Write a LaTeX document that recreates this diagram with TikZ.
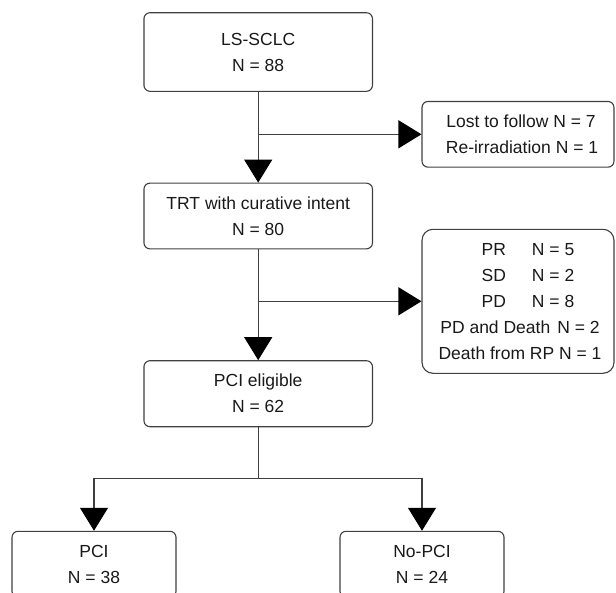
\documentclass[tikz,border=0pt]{standalone}
\usepackage{fontspec}
\setmainfont{Liberation Sans}
\usetikzlibrary{arrows.meta}
\begin{document}
\begin{tikzpicture}[x=1pt,y=-1pt,
  box/.style={draw=black!75, line width=1.1pt, rounded corners=6pt, align=center,
    font=\fontsize{17.5}{26}\selectfont, inner sep=0pt, text=black!90},
  link/.style={draw=black!75, line width=1.1pt},
  arr/.style={link, -{Triangle[length=23pt,width=28pt,color=black]}}]
\useasboundingbox (0,0) rectangle (616,592);
\clip (0,0) rectangle (616,592);
\node[box, minimum width=228.5pt, minimum height=78.6pt] (b1) at (258.2,52) {LS-SCLC\\N = 88};
\node[box, minimum width=228.5pt, minimum height=65.7pt] (b2) at (258.2,216) {TRT with curative intent\\N = 80};
\node[box, minimum width=228.5pt, minimum height=66pt] (b3) at (258.2,393.7) {PCI eligible\\N = 62};
\node[box, minimum width=192pt, minimum height=65.7pt] (r1) at (518,134.3) {\hspace*{6pt}Lost to follow N = 7\\\hspace*{8pt}Re-irradiation N = 1};
\node[box, rounded corners=11pt, minimum width=192pt, minimum height=144pt] (r2) at (518,301.3)
  {\hspace*{20pt}PR\hspace{26pt}N = 5\\\hspace*{20pt}SD\hspace{26pt}N = 2\\\hspace*{20pt}PD\hspace{26pt}N = 8\\\hspace*{4pt}PD and Death\hspace{7pt}N = 2\\\hspace*{4pt}Death from RP N = 1};
\node[box, minimum width=164pt, minimum height=66pt] (pci) at (94,564.3) {PCI\\N = 38};
\node[box, minimum width=164pt, minimum height=66pt] (nopci) at (422,564.3) {No-PCI\\N = 24};
\coordinate (j1) at (b1.south |- r1.west);
\coordinate (j2) at (b2.south |- r2.west);
\coordinate (j3) at (258.2,478.7);
\draw[arr] (b1) -- (b2);
\draw[arr] (j1) -- (r1);
\draw[arr] (b2) -- (b3);
\draw[arr] (j2) -- (r2);
\draw[link] (b3) -- (j3);
\draw[arr] (j3) -| (pci);
\draw[arr] (j3) -| (nopci);
\end{tikzpicture}
\end{document}
